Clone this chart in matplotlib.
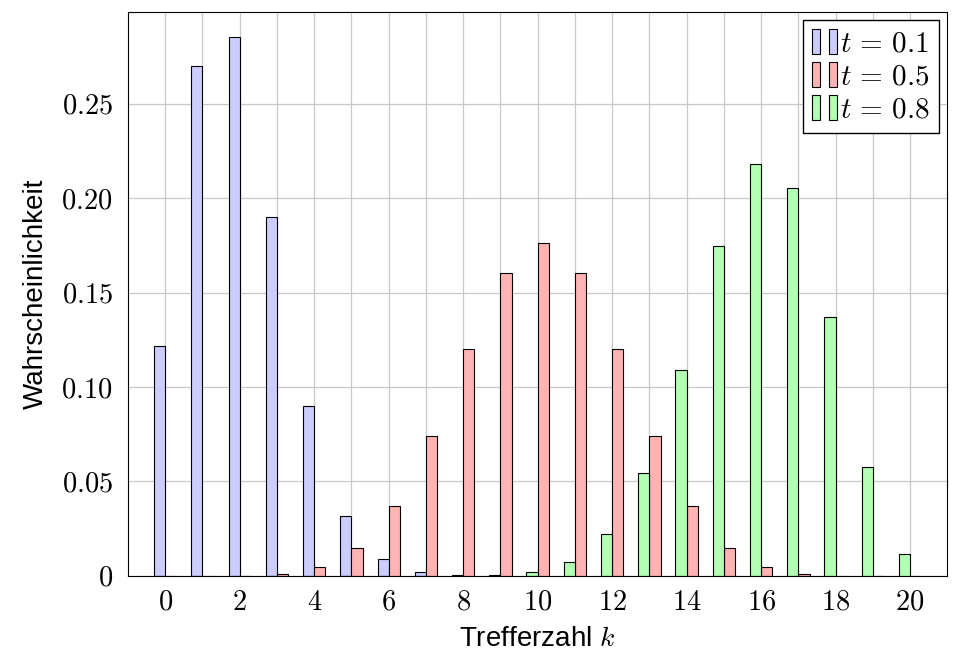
import matplotlib
matplotlib.use("Agg")
import matplotlib.pyplot as plt
from matplotlib.legend_handler import HandlerTuple
from matplotlib.patches import Rectangle
import numpy as np

plt.rcParams.update({"mathtext.fontset": "cm", "font.family": "Liberation Sans"})

k = np.arange(0, 21)
p01 = [0.1216, 0.2702, 0.2852, 0.1901, 0.0898, 0.0319, 0.0089, 0.0020, 0.0004, 0.0001,
       0.0000, 0, 0, 0, 0, 0, 0, 0, 0, 0, 0]
p05 = [0.0000, 0.0000, 0.0002, 0.0011, 0.0046, 0.0148, 0.0370, 0.0739, 0.1201, 0.1602,
       0.1762, 0.1602, 0.1201, 0.0739, 0.0370, 0.0148, 0.0046, 0.0011, 0.0002, 0.0000, 0.0000]
p08 = [0, 0, 0, 0, 0, 0, 0, 0, 0.0001, 0.0005,
       0.0020, 0.0074, 0.0222, 0.0545, 0.1091, 0.1746, 0.2182, 0.2054, 0.1369, 0.0576, 0.0115]
labels = [r"$t\,=\,0.1\,$", r"$t\,=\,0.5\,$", r"$t\,=\,0.8\,$"]

BLUE, RED, GREEN = "#CCCCFF", "#FFB3B3", "#B3FFB3"
w = 0.3

fig = plt.figure(figsize=(9.55, 6.5), dpi=100)
ax = fig.add_axes([0.134, 0.114, 0.858, 0.868])
ax.bar(k - w / 2, p01, w, color=BLUE, edgecolor="black", linewidth=0.8, zorder=2)
ax.bar(k + w / 2, p05, w, color=RED, edgecolor="black", linewidth=0.8, zorder=2)
ax.bar(k - w / 2, p08, w, color=GREEN, edgecolor="black", linewidth=0.8, zorder=2)

ax.set_xlim(-1, 21)
ax.set_ylim(0, 0.2987)
ax.set_xticks(range(0, 21, 2))
ax.set_xticks(range(0, 21), minor=True)
ax.set_xticklabels([f"${v}$" for v in range(0, 21, 2)])
yt = [0, 0.05, 0.10, 0.15, 0.20, 0.25]
ax.set_yticks(yt)
ax.set_yticklabels(["$0$"] + [f"${v:.2f}$" for v in yt[1:]])
ax.tick_params(labelsize=20.5, direction="in", length=0, width=0.6)
ax.tick_params(axis="y", pad=11)
ax.tick_params(axis="x", pad=10)
ax.tick_params(which="minor", length=0)
ax.grid(True, which="both", color="#c8c8c8", linewidth=0.9, zorder=0)
ax.set_axisbelow(True)
for s in ax.spines.values():
    s.set_linewidth(0.8)

ax.set_xlabel(r"Trefferzahl $k$", fontsize=20, labelpad=7)
ax.set_ylabel("Wahrscheinlichkeit", fontsize=20, labelpad=9)

handles = []
for c in [BLUE, RED, GREEN]:
    a = Rectangle((0, 0), 1, 1, facecolor=c, edgecolor="black", linewidth=0.8)
    b = Rectangle((0, 0), 1, 1, facecolor=c, edgecolor="black", linewidth=0.8)
    handles.append((a, b))
ax.legend(handles, labels, handler_map={tuple: HandlerTuple(ndivide=None, pad=0.28)},
          loc="upper right", fontsize=21, frameon=True, fancybox=False,
          edgecolor="black", framealpha=1, handlelength=0.85, handleheight=0.95,
          handletextpad=0.1, borderpad=0.3, labelspacing=0.15, borderaxespad=0.3)

fig.savefig("out.png", dpi=100)
